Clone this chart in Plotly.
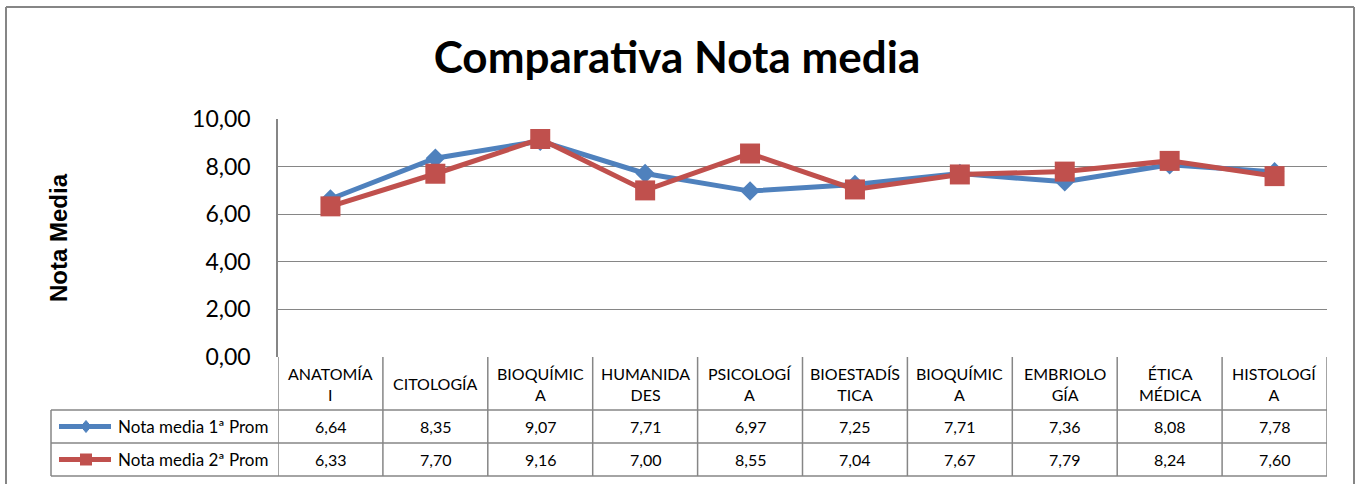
import plotly.graph_objects as go

# ---------------- data ----------------
categories = ["ANATOMÍA I", "CITOLOGÍA", "BIOQUÍMICA", "HUMANIDADES", "PSICOLOGÍA",
              "BIOESTADÍSTICA", "BIOQUÍMICA", "EMBRIOLOGÍA", "ÉTICA MÉDICA", "HISTOLOGÍA"]
category_labels = ["ANATOMÍA<br>I", "CITOLOGÍA", "BIOQUÍMIC<br>A", "HUMANIDA<br>DES",
                   "PSICOLOGÍ<br>A", "BIOESTADÍS<br>TICA", "BIOQUÍMIC<br>A", "EMBRIOLO<br>GÍA",
                   "ÉTICA<br>MÉDICA", "HISTOLOGÍ<br>A"]
series1_name = "Nota media 1ª Prom"
series1 = [6.64, 8.35, 9.07, 7.71, 6.97, 7.25, 7.71, 7.36, 8.08, 7.78]
series2_name = "Nota media 2ª Prom"
series2 = [6.33, 7.70, 9.16, 7.00, 8.55, 7.04, 7.67, 7.79, 8.24, 7.60]
y_ticks = [0, 2, 4, 6, 8, 10]

# ---------------- layout geometry (pixels) ----------------
WIDTH, HEIGHT = 1357, 484
L, R, T, B = 278, 1327, 119, 357
PW, PH = R - L, B - T

def px_x(p):
    return (p - L) / PW

def px_y(p):
    return (B - p) / PH

BLUE = "#4F81BD"
RED = "#C0504D"
GRID = "#868686"
FONT = "Lato, Carlito, Calibri, sans-serif"

n = len(categories)
xs = list(range(n))

fig = go.Figure()
fig.add_trace(go.Scatter(x=xs, y=series1, mode="lines+markers", name=series1_name,
                         line=dict(color=BLUE, width=5),
                         marker=dict(symbol="diamond", size=15, color=BLUE),
                         cliponaxis=False))
fig.add_trace(go.Scatter(x=xs, y=series2, mode="lines+markers", name=series2_name,
                         line=dict(color=RED, width=5),
                         marker=dict(symbol="square", size=20, color=RED),
                         cliponaxis=False))

shapes = []
annotations = []

# outer frame (left, top, right edges)
frame = dict(color=GRID, width=2)
shapes.append(dict(type="line", xref="paper", yref="paper",
                   x0=px_x(6), x1=px_x(1354), y0=px_y(7), y1=px_y(7), line=frame))
shapes.append(dict(type="line", xref="paper", yref="paper",
                   x0=px_x(6), x1=px_x(6), y0=px_y(7), y1=px_y(490), line=frame))
shapes.append(dict(type="line", xref="paper", yref="paper",
                   x0=px_x(1354), x1=px_x(1354), y0=px_y(7), y1=px_y(490), line=frame))

# table geometry
head_bot, row1_bot, row2_bot = 410, 443, 476
leg_left = 51

for k in range(n + 1):
    shapes.append(dict(type="line", xref="x", yref="paper",
                       x0=k - 0.5, x1=k - 0.5, y0=px_y(B), y1=px_y(row2_bot),
                       line=dict(color=GRID, width=1.5)))
for yy in (head_bot, row1_bot, row2_bot):
    shapes.append(dict(type="line", xref="paper", yref="paper",
                       x0=px_x(leg_left), x1=1, y0=px_y(yy), y1=px_y(yy),
                       line=dict(color=GRID, width=1.5)))
shapes.append(dict(type="line", xref="paper", yref="paper",
                   x0=px_x(leg_left), x1=px_x(leg_left), y0=px_y(head_bot), y1=px_y(row2_bot),
                   line=dict(color=GRID, width=1.5)))

for k, lab in enumerate(category_labels):
    annotations.append(dict(xref="x", yref="paper", x=k, y=px_y((B + head_bot) / 2),
                            text=lab, showarrow=False, xanchor="center", yanchor="middle",
                            font=dict(family=FONT, size=16, color="#000")))

rows = [(series1_name, series1, BLUE, "diamond", (head_bot + row1_bot) / 2),
        (series2_name, series2, RED, "square", (row1_bot + row2_bot) / 2)]
for name, vals, col, sym, cy in rows:
    for k, v in enumerate(vals):
        annotations.append(dict(xref="x", yref="paper", x=k, y=px_y(cy),
                                text=f"{v:.2f}".replace(".", ","), showarrow=False,
                                xanchor="center", yanchor="middle",
                                font=dict(family=FONT, size=16, color="#000")))
    shapes.append(dict(type="line", xref="paper", yref="paper",
                       x0=px_x(59), x1=px_x(111), y0=px_y(cy), y1=px_y(cy),
                       line=dict(color=col, width=5)))
    mx = 86
    if sym == "diamond":
        path = (f"M {px_x(mx-5)} {px_y(cy)} L {px_x(mx)} {px_y(cy-6)} "
                f"L {px_x(mx+5)} {px_y(cy)} L {px_x(mx)} {px_y(cy+6)} Z")
        shapes.append(dict(type="path", xref="paper", yref="paper", path=path,
                           fillcolor=col, line=dict(color=col, width=1)))
    else:
        shapes.append(dict(type="rect", xref="paper", yref="paper",
                           x0=px_x(mx - 6), x1=px_x(mx + 6), y0=px_y(cy + 6), y1=px_y(cy - 6),
                           fillcolor=col, line=dict(color=col, width=0)))
    annotations.append(dict(xref="paper", yref="paper", x=px_x(116), y=px_y(cy),
                            text=name, showarrow=False, xanchor="left", yanchor="middle",
                            font=dict(family=FONT, size=17, color="#000")))

annotations.append(dict(xref="paper", yref="paper", x=px_x(58), y=0.5,
                        text="<b>Nota Media</b>", textangle=-90, showarrow=False,
                        xanchor="center", yanchor="middle",
                        font=dict(family="Liberation Sans, Arial, sans-serif", size=24, color="#000")))

fig.update_layout(
    width=WIDTH, height=HEIGHT,
    margin=dict(l=L, r=WIDTH - R, t=T, b=HEIGHT - B, pad=0),
    paper_bgcolor="white", plot_bgcolor="white",
    showlegend=False,
    separators=",.",
    title=dict(text="<b>Comparativa Nota media</b>", xref="container", yref="container",
               x=677 / WIDTH, y=1 - 58 / HEIGHT, xanchor="center", yanchor="middle",
               font=dict(family=FONT, size=44, color="#000")),
    xaxis=dict(range=[-0.5, n - 0.5], visible=False, fixedrange=True),
    yaxis=dict(range=[0, 10], tickvals=y_ticks, tickformat=".2f", fixedrange=True,
               showgrid=True, gridcolor=GRID, gridwidth=1.3,
               zeroline=False, showline=True, linecolor=GRID, linewidth=1.5,
               ticks="", ticklabelstandoff=21,
               tickfont=dict(family=FONT, size=23, color="#000")),
    shapes=shapes, annotations=annotations,
)

fig.write_html("out.html", config={"displayModeBar": False},
               post_script="document.body.style.margin='0';document.body.style.overflow='hidden';")
